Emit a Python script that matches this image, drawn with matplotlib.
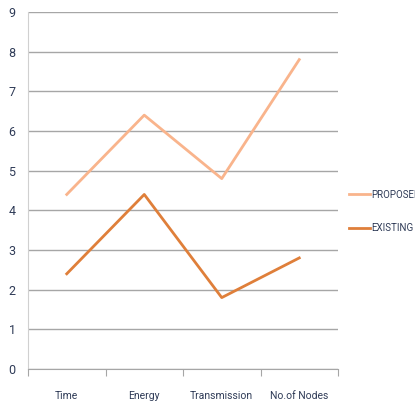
import matplotlib
matplotlib.use("Agg")
from matplotlib import pyplot as plt

categories = ["Time", "Energy", "Transmission", "No.of Nodes"]
proposed = [4.4, 6.4, 4.8, 7.8]
existing = [2.4, 4.4, 1.8, 2.8]

plt.rcParams["font.family"] = ["Roboto", "DejaVu Sans"]

fig = plt.figure(figsize=(4.15, 4.05), dpi=100)
ax = fig.add_axes([28 / 415, 36 / 405, 310 / 415, 357 / 405])

x = range(len(categories))
ax.plot(x, proposed, color="#F9B48C", linewidth=2, label="PROPOSED")
ax.plot(x, existing, color="#DF7F3A", linewidth=2, label="EXISTING")

ax.set_xlim(-0.5, len(categories) - 0.5)
ax.set_ylim(0, 9)
ax.set_yticks(range(10))
ax.yaxis.grid(True, color="#A6A6A6", linewidth=1)
ax.set_axisbelow(True)

# category boundaries get the tick marks, names sit between them
ax.set_xticks([i - 0.5 for i in range(len(categories) + 1)])
ax.set_xticklabels([])
ax.set_xticks(list(x), minor=True)
ax.set_xticklabels(categories, minor=True)
ax.tick_params(axis="x", which="major", length=5, color="#A6A6A6", direction="out")
ax.tick_params(axis="x", which="minor", length=0, pad=16, labelsize=7.5, colors="#2F3B57")
ax.tick_params(axis="y", length=0, pad=9, labelsize=9, colors="#2F3B57")

for side in ["top", "right"]:
    ax.spines[side].set_visible(False)
ax.spines["left"].set_color("#D0D0D0")
ax.spines["bottom"].set_color("#A6A6A6")

ax.legend(loc="upper left", bbox_to_anchor=(345 / 415, 1 - 186 / 405),
          bbox_transform=fig.transFigure, frameon=False, fontsize=7,
          handlelength=2.2, handletextpad=0.15, labelspacing=2.4, borderaxespad=0,
          labelcolor="#2F3B57")

fig.savefig("out.png", dpi=100)
